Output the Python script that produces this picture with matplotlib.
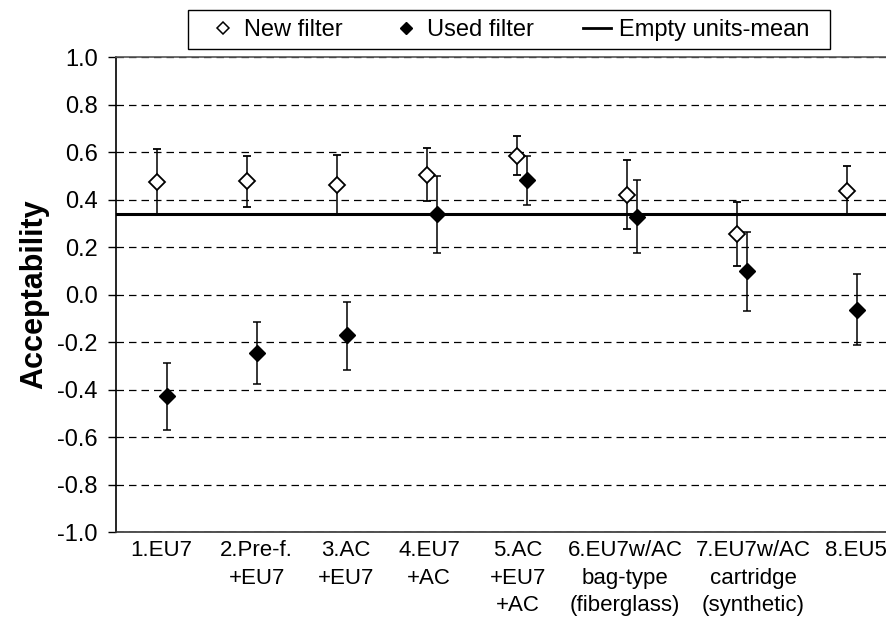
import numpy as np
import matplotlib
matplotlib.use("Agg")
import matplotlib.pyplot as plt
from matplotlib.lines import Line2D
from matplotlib.patches import Rectangle

plt.rcParams['font.family'] = ['Liberation Sans', 'DejaVu Sans']

# categories (x positions as in the original: wider gaps after 5)
labels = ['1.EU7', '2.Pre-f.\n+EU7', '3.AC\n+EU7', '4.EU7\n+AC', '5.AC\n+EU7\n+AC',
          '6.EU7w/AC\nbag-type\n(fiberglass)', '7.EU7w/AC\ncartridge\n(synthetic)', '8.EU5']
x_pos = [1, 2, 3, 4, 5, 6.222, 7.444, 8.673]
label_pos = [0.99, 2.055, 3.048, 3.97, 4.96, 6.148, 7.57, 8.716]

# new filter: mean, lower end, upper end of error bar
new_mean = [0.474, 0.478, 0.463, 0.505, 0.586, 0.422, 0.257, 0.438]
new_lo = [0.335, 0.369, 0.341, 0.396, 0.505, 0.275, 0.119, 0.335]
new_hi = [0.614, 0.583, 0.590, 0.616, 0.667, 0.566, 0.390, 0.541]

# used filter
used_mean = [-0.429, -0.246, -0.172, 0.338, 0.482, 0.329, 0.098, -0.063]
used_lo = [-0.569, -0.377, -0.316, 0.176, 0.377, 0.176, -0.067, -0.214]
used_hi = [-0.286, -0.116, -0.032, 0.499, 0.584, 0.484, 0.264, 0.088]

empty_mean = 0.341

y_ticks = [-1.0, -0.8, -0.6, -0.4, -0.2, 0.0, 0.2, 0.4, 0.6, 0.8, 1.0]

fig = plt.figure(figsize=(8.87, 6.21), dpi=100)
ax = fig.add_axes([0.1308, 0.1433, 0.8692, 0.7644])

x = np.array(x_pos)
dx = 0.056

nm = np.array(new_mean)
um = np.array(used_mean)
ax.axhline(empty_mean, color='black', lw=2.2, zorder=2)

ax.errorbar(x - dx, nm, yerr=[nm - np.array(new_lo), np.array(new_hi) - nm],
            fmt='D', ms=8, mfc='white', mec='black', mew=1.3, ecolor='black',
            elinewidth=1.1, capsize=3, capthick=1.1, zorder=3)
ax.errorbar(x + dx, um, yerr=[um - np.array(used_lo), np.array(used_hi) - um],
            fmt='D', ms=8, mfc='black', mec='black', ecolor='black',
            elinewidth=1.1, capsize=3, capthick=1.1, zorder=4)

ax.set_xlim(0.492, 9.059)
ax.set_ylim(-1.0, 1.0)
ax.set_yticks(y_ticks)
ax.set_yticklabels([f'{v:.1f}' for v in y_ticks])
ax.set_xticks(label_pos)
ax.set_xticklabels(labels, fontsize=16, linespacing=1.4, va='top')
ax.tick_params(axis='x', length=0, pad=6)
ax.tick_params(axis='y', length=6, width=1, direction='out', labelsize=17, pad=7)
ax.yaxis.grid(True, linestyle=(0, (6, 4)), color='black', lw=0.9)
ax.set_axisbelow(True)

ax.spines['right'].set_visible(False)
ax.spines['top'].set_color('#555555')
ax.spines['top'].set_linewidth(1.2)
ax.spines['left'].set_linewidth(1.2)
ax.spines['bottom'].set_color('#333333')
ax.spines['bottom'].set_linewidth(1.2)

ax.set_ylabel('Acceptability', fontsize=22, fontweight='bold', labelpad=6)

handles = [Line2D([], [], marker='D', ls='none', ms=6.5, mfc='white', mec='black', mew=1.1),
           Line2D([], [], marker='D', ls='none', ms=6.5, mfc='black', mec='black'),
           Line2D([], [], color='black', lw=2)]
leg = fig.legend(handles, ['New filter', 'Used filter', 'Empty units-mean'],
                 loc='center', bbox_to_anchor=(0.5738, 0.951), ncol=3,
                 fontsize=17, frameon=False,
                 handlelength=1.2, handletextpad=0.3, columnspacing=2.07,
                 borderpad=0.0)
# legend box
fig.patches.append(Rectangle((188 / 887, 1 - 49 / 621), 642 / 887, 39 / 621,
                             transform=fig.transFigure, fill=False,
                             edgecolor='black', lw=1.0))

fig.savefig('out.png', dpi=100)
